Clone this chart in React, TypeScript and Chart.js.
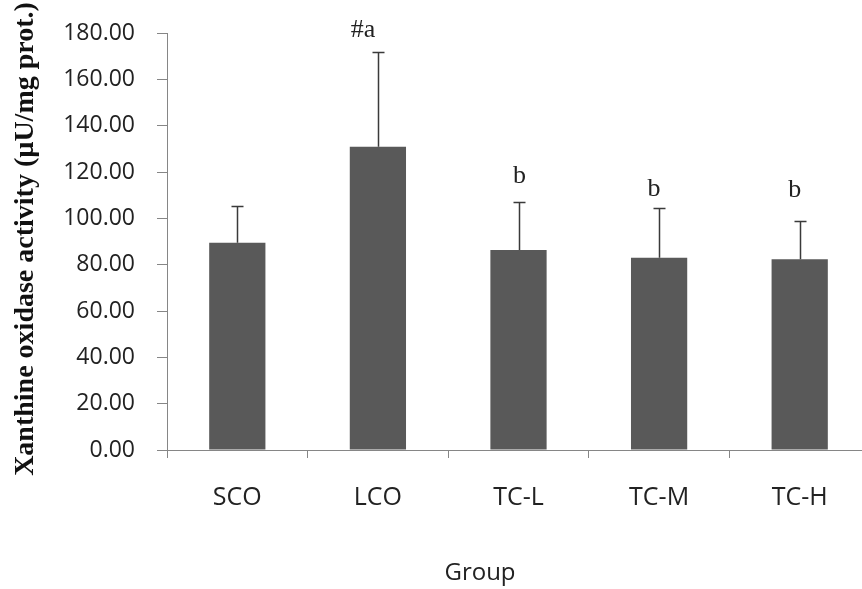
import React, { useEffect, useRef } from "react";
import { Chart, registerables } from "chart.js";

Chart.register(...registerables);

const categories = ["SCO", "LCO", "TC-L", "TC-M", "TC-H"];
const means = [89.5, 130.9, 86.3, 83.0, 82.3];
const sdUpper = [15.8, 40.7, 20.9, 21.6, 16.5];
const sigLabels = ["", "#a", "b", "b", "b"];
const sigLabelValues = [0, 178.2, 115.2, 109.6, 109.2];
const yTicks = [0, 20, 40, 60, 80, 100, 120, 140, 160, 180];

const yTitle = "Xanthine oxidase activity (µU/mg prot.)";
const xTitle = "Group";

const sigDx = [0, -15, 1, -5, -5];

export default function App() {
  const ref = useRef<HTMLCanvasElement | null>(null);

  useEffect(() => {
    const canvas = ref.current!;
    const overlay = {
      id: "overlay",
      afterDatasetsDraw(chart: any) {
        const ctx = chart.ctx;
        const meta = chart.getDatasetMeta(0);
        const ys = chart.scales.y;
        ctx.save();
        // error bars
        ctx.strokeStyle = "#3a3a3a";
        ctx.lineWidth = 1.5;
        meta.data.forEach((bar: any, i: number) => {
          const x = Math.round(bar.x) + 0.5;
          const y0 = ys.getPixelForValue(means[i]);
          const y1 = Math.round(ys.getPixelForValue(means[i] + sdUpper[i])) + 0.5;
          ctx.beginPath();
          ctx.moveTo(x, y0);
          ctx.lineTo(x, y1);
          ctx.moveTo(x - 6, y1);
          ctx.lineTo(x + 6, y1);
          ctx.stroke();
        });
        // significance labels
        ctx.fillStyle = "#222";
        ctx.font = "26px 'Liberation Serif'";
        ctx.textAlign = "center";
        ctx.textBaseline = "alphabetic";
        meta.data.forEach((bar: any, i: number) => {
          if (!sigLabels[i]) return;
          ctx.fillText(sigLabels[i], bar.x + sigDx[i], ys.getPixelForValue(sigLabelValues[i]));
        });
        // y title
        ctx.save();
        ctx.translate(33, 239);
        ctx.rotate(-Math.PI / 2);
        ctx.font = "bold 28px 'Liberation Serif'";
        ctx.textBaseline = "alphabetic";
        ctx.textAlign = "center";
        ctx.fillStyle = "#111";
        ctx.fillText(yTitle, 0, 0);
        ctx.restore();
        // x title
        ctx.font = "24px 'Open Sans'";
        ctx.fillStyle = "#222";
        ctx.textAlign = "center";
        ctx.textBaseline = "alphabetic";
        ctx.fillText(xTitle, 480, 580);
        ctx.restore();
      },
    };

    const chart = new Chart(canvas, {
      type: "bar",
      data: {
        labels: categories,
        datasets: [
          {
            data: means,
            backgroundColor: "#595959",
            borderWidth: 0,
            categoryPercentage: 1,
            barPercentage: 0.4,
          },
        ],
      },
      options: {
        animation: false,
        responsive: false,
        devicePixelRatio: 1,
        layout: { padding: { top: 0, right: 1, left: 0, bottom: 0 } },
        plugins: { legend: { display: false }, tooltip: { enabled: false } },
        scales: {
          x: {
            offset: true,
            grid: {
              display: true,
              drawOnChartArea: false,
              drawTicks: true,
              tickLength: 8,
              offset: true,
              color: "#868686",
            },
            border: { display: true, color: "#868686", width: 1 },
            ticks: {
              color: "#222",
              font: { family: "'Open Sans'", size: 25 },
              padding: 25,
              maxRotation: 0,
            },
            afterFit(scale: any) {
              scale.height = 139;
            },
          },
          y: {
            min: 0,
            max: 180,
            afterBuildTicks(scale: any) {
              scale.ticks = yTicks.map((v) => ({ value: v }));
            },
            grid: {
              display: true,
              drawOnChartArea: false,
              drawTicks: true,
              tickLength: 10,
              color: "#868686",
            },
            border: { display: true, color: "#868686", width: 1 },
            ticks: {
              color: "#222",
              font: { family: "'Open Sans'", size: 23 },
              padding: 22,
              callback: (v: any) => Number(v).toFixed(2),
            },
            afterFit(scale: any) {
              scale.width = 167;
              scale.paddingTop = 33;
            },
          },
        },
      },
      plugins: [overlay],
    });
    return () => chart.destroy();
  }, []);

  return (
    <div
      style={{
        position: "fixed",
        left: 0,
        top: 0,
        width: 862,
        height: 589,
        overflow: "hidden",
        background: "#fff",
      }}
    >
      <canvas ref={ref} width={871} height={589} style={{ width: 871, height: 589, display: "block" }} />
    </div>
  );
}
